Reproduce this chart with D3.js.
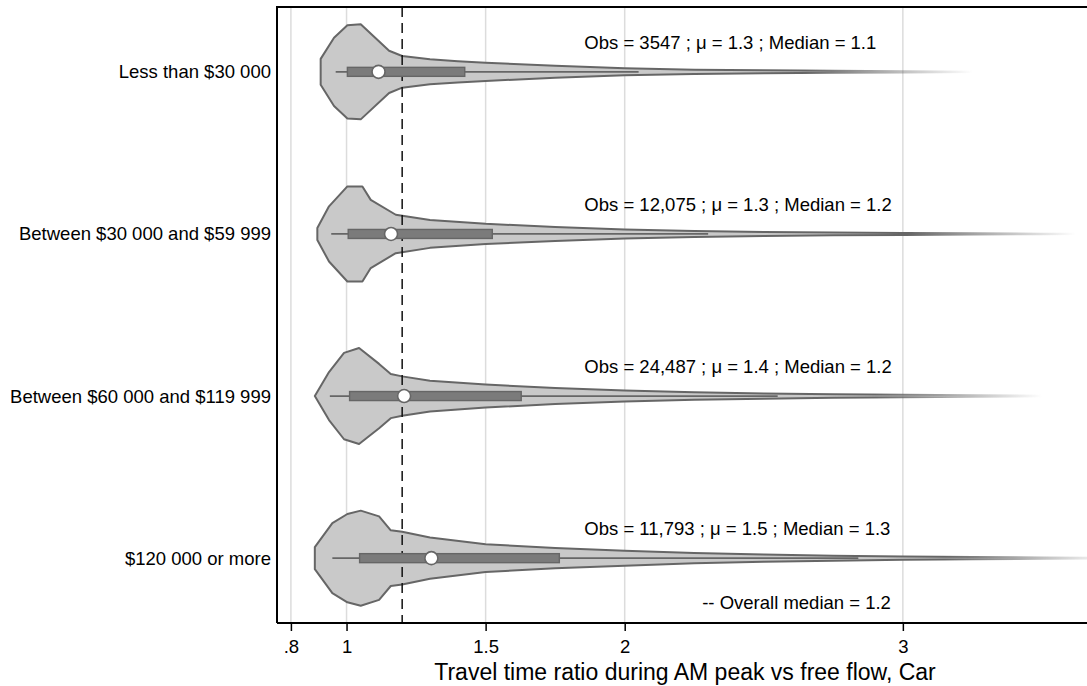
<!DOCTYPE html>
<html>
<head>
<meta charset="utf-8">
<script src="https://cdn.jsdelivr.net/npm/d3@7"></script>
<style>
  body { margin: 0; background: #fff; }
  svg { display: block; font-family: Helvetica, Arial, "Liberation Sans", sans-serif; }
</style>
</head>
<body>
<div id="chart"></div>
<script>
// categories (top to bottom)
const categories = ["Less than $30 000", "Between $30 000 and $59 999", "Between $60 000 and $119 999", "$120 000 or more"];

// density profiles, [ratio, relative density]
const dens1 = [[0.907,0.27],[0.955,0.71],[1.003,0.97],[1.051,0.99],[1.153,0.44],[1.2,0.33],[1.3,0.26],[1.4,0.22],[1.5,0.19],[1.75,0.125],[2,0.073],[2.25,0.046],[2.5,0.031],[2.75,0.021],[3,0.0125],[3.25,0.004]];
const dens2 = [[0.895,0.125],[0.937,0.575],[1.003,0.99],[1.057,0.99],[1.087,0.71],[1.177,0.40],[1.3,0.29],[1.5,0.21],[1.75,0.145],[2,0.094],[2.25,0.063],[2.5,0.042],[2.75,0.029],[3,0.021],[3.25,0.0125],[3.5,0.006],[3.62,0.002]];
const dens3 = [[0.886,0],[0.937,0.5],[0.991,0.9],[1.045,1.0],[1.117,0.67],[1.159,0.46],[1.2,0.41],[1.3,0.32],[1.5,0.24],[1.75,0.167],[2,0.115],[2.25,0.079],[2.5,0.054],[2.75,0.0375],[3,0.025],[3.25,0.0146],[3.5,0.006]];
const dens4 = [[0.886,0.23],[0.949,0.73],[1.003,0.92],[1.051,0.99],[1.117,0.87],[1.159,0.58],[1.2,0.55],[1.3,0.43],[1.5,0.29],[1.75,0.21],[2,0.156],[2.25,0.108],[2.5,0.075],[2.75,0.052],[3,0.035],[3.25,0.023],[3.5,0.0146],[3.75,0.006]];
const densities = [dens1, dens2, dens3, dens4];

// box plot stats
const whiskerLo = [0.961, 0.945, 0.94, 0.949];
const q1 = [1.003, 1.006, 1.011, 1.047];
const medians = [1.115, 1.16, 1.207, 1.305];
const q3 = [1.425, 1.524, 1.628, 1.765];
const whiskerHi = [2.05, 2.30, 2.55, 2.84];
const tailEnd = [3.25, 3.62, 3.5, 3.75];

const labels = [
  "Obs = 3547 ; \u03bc = 1.3 ; Median = 1.1",
  "Obs = 12,075 ; \u03bc = 1.3 ; Median = 1.2",
  "Obs = 24,487 ; \u03bc = 1.4 ; Median = 1.2",
  "Obs = 11,793 ; \u03bc = 1.5 ; Median = 1.3"
];
const overallMedian = 1.2;
const xTicks = [0.8, 1, 1.5, 2, 3];
const xTitle = "Travel time ratio during AM peak vs free flow, Car";

const width = 1087;
const height = 686;
const marginLeft = 277;
const marginTop = 7;
const plotBottom = 623;

const svg = d3.select("#chart").append("svg")
    .attr("width", width)
    .attr("height", height);

const x = d3.scaleLinear([0.75, 3.662], [marginLeft, width]);
const y = d3.scalePoint(categories, [marginTop, plotBottom]).padding(0.4);
const w = d3.scaleLinear([0, 1], [0, 48]);

// gridlines
svg.append("g")
  .selectAll("line")
  .data(xTicks)
  .join("line")
    .attr("x1", d => x(d)).attr("x2", d => x(d))
    .attr("y1", marginTop).attr("y2", plotBottom)
    .attr("stroke", "#dcdcdc")
    .attr("stroke-width", 1.5);

// fade masks for the long tails
const defs = svg.append("defs");
categories.forEach((c, i) => {
  const grad = defs.append("linearGradient")
      .attr("id", "fade" + i)
      .attr("gradientUnits", "userSpaceOnUse")
      .attr("x1", x(tailEnd[i] - 0.6)).attr("x2", x(tailEnd[i]))
      .attr("y1", 0).attr("y2", 0);
  grad.append("stop").attr("offset", 0).attr("stop-color", "#fff");
  grad.append("stop").attr("offset", 1).attr("stop-color", "#000");
  defs.append("mask")
      .attr("id", "mask" + i)
      .attr("maskUnits", "userSpaceOnUse")
      .attr("x", 0).attr("y", 0).attr("width", width).attr("height", height)
    .append("rect")
      .attr("x", 0).attr("y", 0).attr("width", width).attr("height", height)
      .attr("fill", `url(#fade${i})`);
});

// violins
categories.forEach((c, i) => {
  const cy = y(c);
  const area = d3.area()
      .x(d => x(d[0]))
      .y0(d => cy - w(d[1]))
      .y1(d => cy + w(d[1]));
  svg.append("path")
      .attr("d", area(densities[i]))
      .attr("fill", "#c9c9c9")
      .attr("stroke", "#666")
      .attr("stroke-width", 2)
      .attr("stroke-linejoin", "round")
      .attr("mask", `url(#mask${i})`);
});

// dashed overall median line
svg.append("line")
    .attr("x1", x(overallMedian)).attr("x2", x(overallMedian))
    .attr("y1", marginTop).attr("y2", plotBottom)
    .attr("stroke", "#111")
    .attr("stroke-width", 1.5)
    .attr("stroke-dasharray", "10,6");

// boxes
categories.forEach((c, i) => {
  const cy = y(c);
  const g = svg.append("g");
  g.append("line")
      .attr("x1", x(whiskerLo[i])).attr("x2", x(whiskerHi[i]))
      .attr("y1", cy).attr("y2", cy)
      .attr("stroke", "#666")
      .attr("stroke-width", 1.8);
  g.append("rect")
      .attr("x", x(q1[i]))
      .attr("y", cy - 4.5)
      .attr("width", x(q3[i]) - x(q1[i]))
      .attr("height", 9)
      .attr("fill", "#7b7b7b")
      .attr("stroke", "#666")
      .attr("stroke-width", 1.4);
  g.append("circle")
      .attr("cx", x(medians[i]))
      .attr("cy", cy)
      .attr("r", 6.5)
      .attr("fill", "#fff")
      .attr("stroke", "#666")
      .attr("stroke-width", 1.6);
  g.append("text")
      .attr("x", x(1.855))
      .attr("y", cy - 23)
      .attr("font-size", 18.5)
      .attr("fill", "#000")
      .text(labels[i]);
});

svg.append("text")
    .attr("x", x(2.957))
    .attr("y", 609)
    .attr("text-anchor", "end")
    .attr("font-size", 18.5)
    .text("-- Overall median = " + overallMedian);

// frame
svg.append("path")
    .attr("d", `M${width},${marginTop}H${marginLeft}V${plotBottom}`)
    .attr("fill", "none")
    .attr("stroke", "#000")
    .attr("stroke-width", 2);

// x axis
svg.append("g")
    .attr("transform", `translate(0,${plotBottom})`)
    .call(d3.axisBottom(x).tickValues(xTicks).tickSize(8).tickPadding(9)
      .tickFormat(d => d < 1 ? String(d).replace(/^0/, "") : d))
    .call(g => g.select(".domain").attr("stroke-width", 2).attr("d", `M${marginLeft},0H${width}`))
    .call(g => g.selectAll(".tick line").attr("stroke-width", 1.5))
    .call(g => g.selectAll("text").attr("font-size", 18.5).attr("fill", "#000").attr("font-family", null));

svg.append("text")
    .attr("x", (marginLeft + width) / 2 + 3)
    .attr("y", 680)
    .attr("text-anchor", "middle")
    .attr("font-size", 23)
    .text(xTitle);

// category labels
svg.append("g")
  .selectAll("text")
  .data(categories)
  .join("text")
    .attr("x", 271)
    .attr("y", d => y(d))
    .attr("dy", "0.35em")
    .attr("text-anchor", "end")
    .attr("font-size", 18.5)
    .text(d => d);
</script>
</body>
</html>
